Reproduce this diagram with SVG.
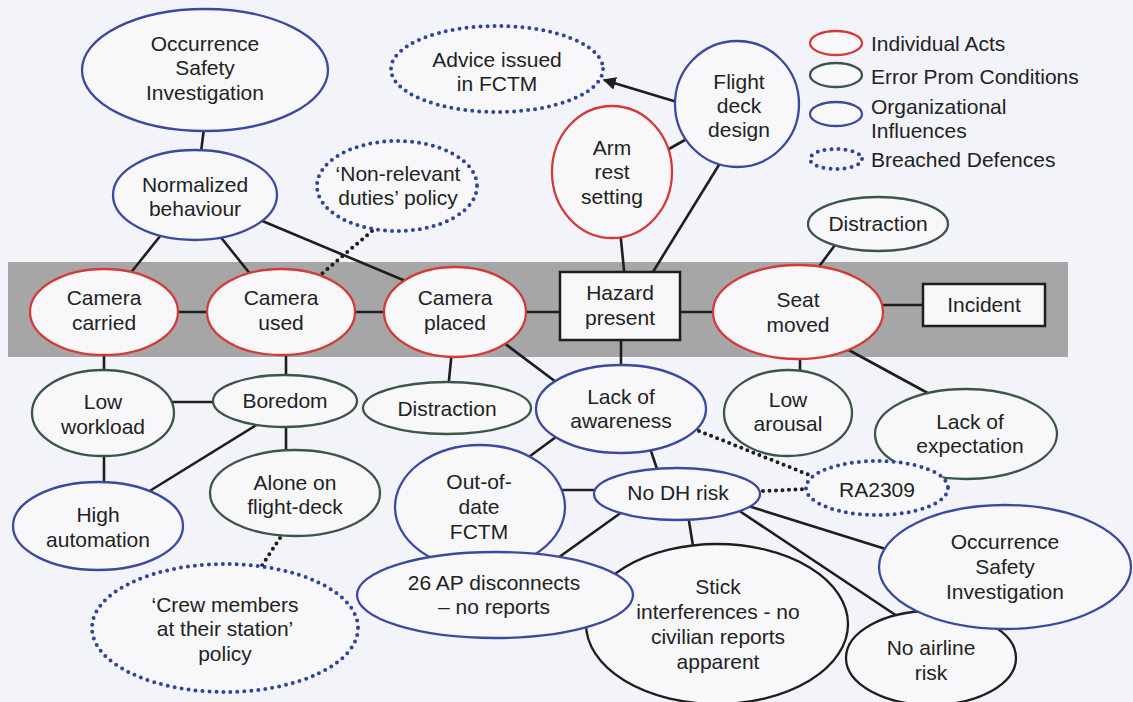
<svg xmlns="http://www.w3.org/2000/svg" width="1133" height="702" viewBox="0 0 1133 702">
<defs>
<style>
text{font-family:"Liberation Sans",Arial,sans-serif;font-size:21px;fill:#222;text-anchor:middle}
.lg{text-anchor:start}
.n{fill:#f8f8fb;stroke-width:2.3}
.r{stroke:#d43a3a}
.g{stroke:#3d5547}
.b{stroke:#3b4aa0}
.k{stroke:#1e1e1e}
.d{stroke:#2f44a0;stroke-width:4;stroke-dasharray:0 7;stroke-linecap:round}
.box{fill:#f8f8fb;stroke:#1e1e1e;stroke-width:2.5}
.c line{stroke:#1e1e1e;stroke-width:2.6}
.c .dl{stroke-width:4;stroke-dasharray:0 6.5;stroke-linecap:round}
</style>
<marker id="ah" viewBox="0 0 10 10" refX="9" refY="5" markerWidth="5" markerHeight="5" orient="auto" markerUnits="strokeWidth">
<path d="M0,0 L10,5 L0,10 z" fill="#1e1e1e"/>
</marker>
</defs>
<rect x="0" y="0" width="1133" height="702" fill="#f3f4f9"/>
<rect id="band" x="8" y="262" width="1060" height="95" fill="#a6a6a6"/>

<g id="connectors" class="c">
<line x1="205" y1="120" x2="200" y2="160"/>
<line x1="165" y1="230" x2="125" y2="280"/>
<line x1="215" y1="230" x2="255" y2="280"/>
<line x1="260" y1="220" x2="415" y2="285"/>
<line class="dl" x1="372" y1="231" x2="318" y2="277"/>
<line x1="170" y1="312" x2="215" y2="312"/>
<line x1="345" y1="312" x2="390" y2="312"/>
<line x1="515" y1="312" x2="565" y2="312"/>
<line x1="675" y1="312" x2="720" y2="312"/>
<line x1="875" y1="305" x2="930" y2="305"/>
<line x1="620" y1="230" x2="625" y2="280"/>
<line x1="660" y1="154" x2="692" y2="136"/>
<line x1="722" y1="160" x2="648" y2="280"/>
<line x1="677" y1="102" x2="604" y2="80" marker-end="url(#ah)"/>
<line x1="835" y1="245" x2="815" y2="272"/>
<line x1="104" y1="350" x2="104" y2="375"/>
<line x1="286" y1="350" x2="286" y2="385"/>
<line x1="170" y1="402" x2="222" y2="402"/>
<line x1="286" y1="420" x2="286" y2="458"/>
<line x1="258" y1="424" x2="148" y2="492"/>
<line x1="104" y1="450" x2="104" y2="488"/>
<line x1="452" y1="350" x2="448" y2="390"/>
<line x1="500" y1="340" x2="560" y2="385"/>
<line x1="621" y1="335" x2="621" y2="372"/>
<line x1="800" y1="355" x2="800" y2="375"/>
<line x1="845" y1="348" x2="935" y2="397"/>
<line x1="560" y1="434" x2="522" y2="462"/>
<line x1="650" y1="448" x2="658" y2="472"/>
<line class="dl" x1="699" y1="431" x2="812" y2="476"/>
<line class="dl" x1="763" y1="491" x2="808" y2="489"/>
<line x1="556" y1="490" x2="605" y2="490"/>
<line x1="622" y1="512" x2="555" y2="560"/>
<line x1="688" y1="515" x2="694" y2="552"/>
<line x1="745" y1="505" x2="892" y2="551"/>
<line x1="738" y1="510" x2="906" y2="622"/>
<line class="dl" x1="280" y1="538" x2="261" y2="567"/>
</g>

<g id="legend">
<ellipse cx="836" cy="43" rx="26" ry="12" class="n r"/>
<ellipse cx="836" cy="75" rx="26" ry="12" class="n g"/>
<ellipse cx="836" cy="114" rx="26" ry="12" class="n b"/>
<ellipse cx="836" cy="159" rx="26" ry="10" fill="none" class="d"/>
<text class="lg" x="871" y="51">Individual Acts</text>
<text class="lg" x="871" y="84">Error Prom Conditions</text>
<text class="lg" x="871" y="114">Organizational</text>
<text class="lg" x="871" y="138">Influences</text>
<text class="lg" x="871" y="167">Breached Defences</text>
</g>

<g id="osi-top"><ellipse cx="205" cy="70" rx="123" ry="61" class="n b"/>
<text x="205" y="51">Occurrence</text><text x="205" y="75">Safety</text><text x="205" y="100">Investigation</text></g>

<g id="normalized"><ellipse cx="195" cy="195" rx="82" ry="45" class="n b"/>
<text x="195" y="192">Normalized</text><text x="195" y="216">behaviour</text></g>

<g id="nonrelevant"><ellipse cx="397" cy="186" rx="80" ry="45" class="n d"/>
<text x="398" y="181">‘Non-relevant</text><text x="398" y="205">duties’ policy</text></g>

<g id="advice"><ellipse cx="497" cy="69" rx="106" ry="43" class="n d"/>
<text x="497" y="67">Advice issued</text><text x="497" y="91">in FCTM</text></g>

<g id="flightdeck"><ellipse cx="737" cy="104" rx="62" ry="63" class="n b"/>
<text x="739" y="89">Flight</text><text x="739" y="113">deck</text><text x="739" y="137">design</text></g>

<g id="armrest"><ellipse cx="612" cy="172" rx="60" ry="66" class="n r"/>
<text x="612" y="155">Arm</text><text x="612" y="179">rest</text><text x="612" y="204">setting</text></g>

<g id="distraction-top"><ellipse cx="878" cy="224" rx="70" ry="27" class="n g"/>
<text x="878" y="231">Distraction</text></g>

<g id="camera-carried"><ellipse cx="104" cy="312" rx="74" ry="43" class="n r"/>
<text x="104" y="305">Camera</text><text x="104" y="330">carried</text></g>

<g id="camera-used"><ellipse cx="281" cy="312" rx="74" ry="43" class="n r"/>
<text x="281" y="305">Camera</text><text x="281" y="330">used</text></g>

<g id="camera-placed"><ellipse cx="455" cy="312" rx="71" ry="45" class="n r"/>
<text x="455" y="305">Camera</text><text x="455" y="330">placed</text></g>

<g id="hazard"><rect x="560" y="272" width="120" height="68" class="box"/>
<text x="620" y="300">Hazard</text><text x="620" y="325">present</text></g>

<g id="seat-moved"><ellipse cx="798" cy="312" rx="85" ry="47" class="n r"/>
<text x="798" y="307">Seat</text><text x="798" y="332">moved</text></g>

<g id="incident"><rect x="923" y="284" width="122" height="42" class="box"/>
<text x="984" y="312">Incident</text></g>

<g id="low-workload"><ellipse cx="103" cy="413" rx="71" ry="43" class="n g"/>
<text x="103" y="409">Low</text><text x="103" y="434">workload</text></g>

<g id="boredom"><ellipse cx="285" cy="401" rx="72" ry="26" class="n g"/>
<text x="285" y="408">Boredom</text></g>

<g id="distraction-low"><ellipse cx="447" cy="408" rx="84" ry="26" class="n g"/>
<text x="447" y="416">Distraction</text></g>

<g id="lack-awareness"><ellipse cx="621" cy="409" rx="85" ry="44" class="n b"/>
<text x="621" y="404">Lack of</text><text x="621" y="428">awareness</text></g>

<g id="low-arousal"><ellipse cx="788" cy="413" rx="64" ry="43" class="n g"/>
<text x="788" y="407">Low</text><text x="788" y="431">arousal</text></g>

<g id="lack-expectation"><ellipse cx="966" cy="434" rx="91" ry="45" class="n g"/>
<text x="970" y="429">Lack of</text><text x="970" y="453">expectation</text></g>

<g id="high-automation"><ellipse cx="98" cy="526" rx="85" ry="44" class="n b"/>
<text x="98" y="522">High</text><text x="98" y="547">automation</text></g>

<g id="alone"><ellipse cx="295" cy="493" rx="85" ry="43" class="n g"/>
<text x="295" y="490">Alone on</text><text x="295" y="514">flight-deck</text></g>

<g id="ra2309"><ellipse cx="877" cy="488" rx="71" ry="27" class="n d"/>
<text x="877" y="497">RA2309</text></g>

<g id="out-of-date"><ellipse cx="480" cy="507" rx="85" ry="62" class="n b"/>
<text x="479" y="489">Out-of-</text><text x="479" y="514">date</text><text x="479" y="539">FCTM</text></g>

<g id="no-dh"><ellipse cx="677" cy="494" rx="83" ry="26" class="n b"/>
<text x="678" y="500">No DH risk</text></g>

<g id="stick"><ellipse cx="717" cy="624" rx="131" ry="80" class="n k"/>
<text x="718" y="594">Stick</text><text x="718" y="619">interferences - no</text><text x="718" y="644">civilian reports</text><text x="718" y="669">apparent</text></g>

<g id="no-airline"><ellipse cx="931" cy="658" rx="85" ry="47" class="n k"/>
<text x="931" y="655">No airline</text><text x="931" y="680">risk</text></g>

<g id="osi-low"><ellipse cx="1005" cy="567" rx="126" ry="62" class="n b"/>
<text x="1005" y="549">Occurrence</text><text x="1005" y="574">Safety</text><text x="1005" y="599">Investigation</text></g>

<g id="ap-disconnects"><ellipse cx="495" cy="595" rx="138" ry="43" class="n b"/>
<text x="494" y="590">26 AP disconnects</text><text x="494" y="614">– no reports</text></g>

<g id="crew"><ellipse cx="225" cy="628" rx="133" ry="64" class="n d"/>
<text x="225" y="612">‘Crew members</text><text x="225" y="636">at their station’</text><text x="225" y="661">policy</text></g>
</svg>
